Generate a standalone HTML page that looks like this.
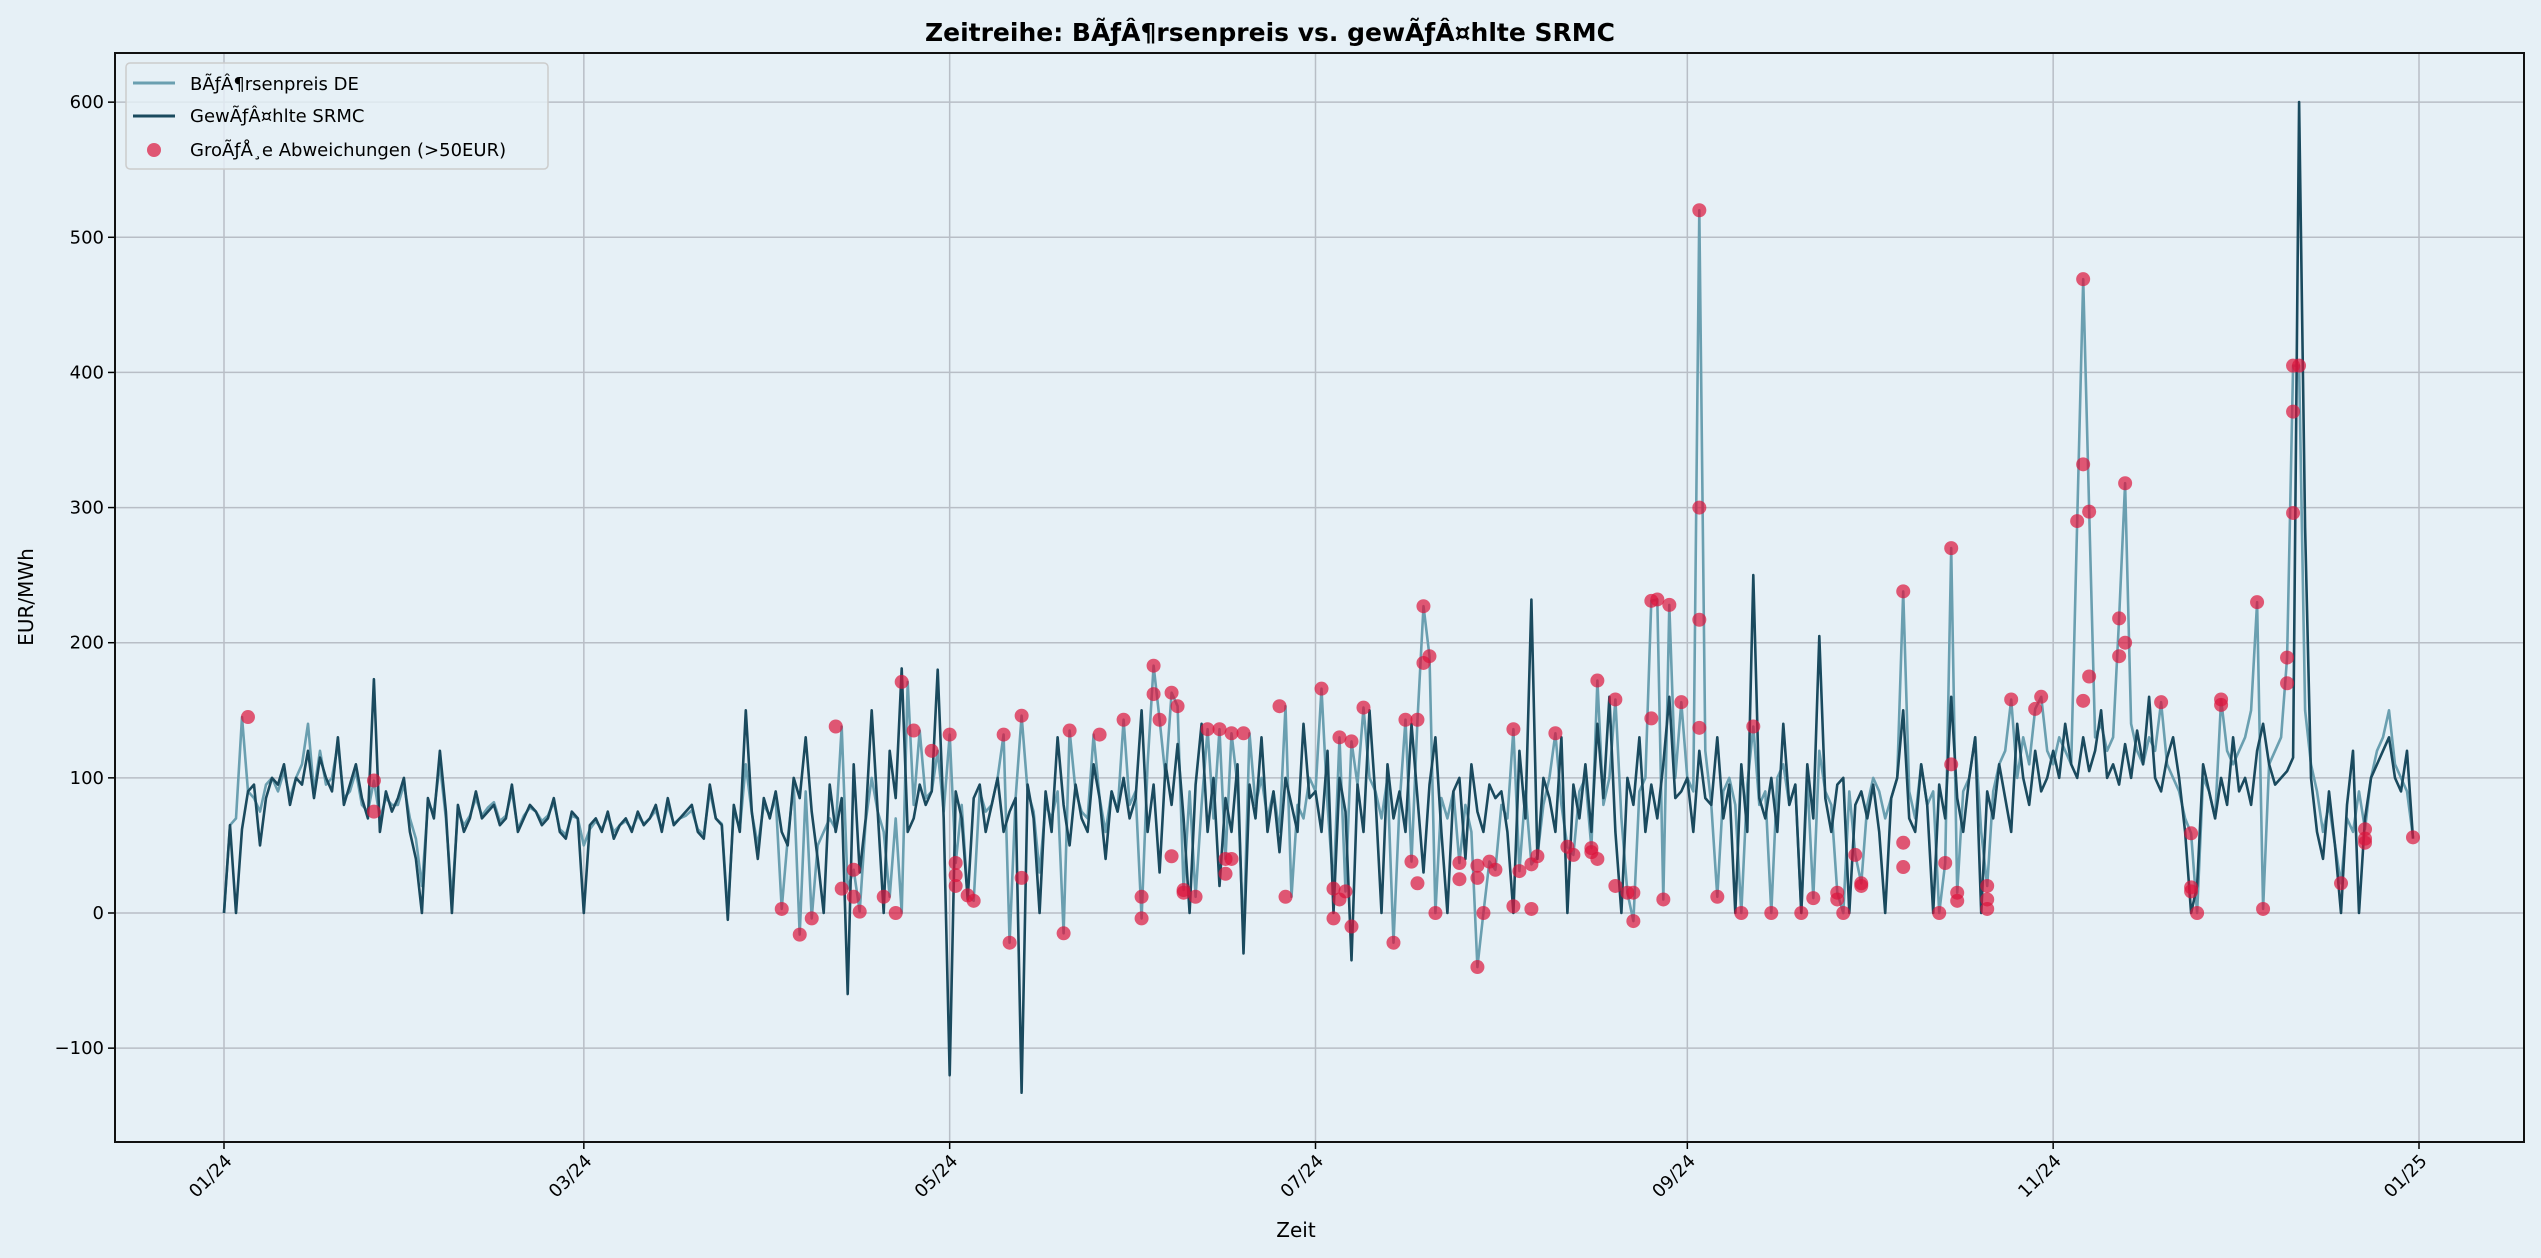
<!DOCTYPE html>
<html>
<head>
<meta charset="utf-8">
<style>
html,body{margin:0;padding:0;background:#e6f0f6;}
svg{display:block;}
text{font-family:"DejaVu Sans","Liberation Sans",sans-serif;fill:#000;}
</style>
</head>
<body>
<svg id="chart" width="2541" height="1258" viewBox="0 0 2541 1258" xmlns="http://www.w3.org/2000/svg">
<rect x="0" y="0" width="2541" height="1258" fill="#e6f0f6"/>
<text x="1270" y="41" text-anchor="middle" font-size="25" font-weight="bold">Zeitreihe: BÃƒÂ¶rsenpreis vs. gewÃƒÂ¤hlte SRMC</text>
<g id="grid"></g>
<g id="plot"></g>
<g id="axes"></g>
<text x="1296" y="1237" text-anchor="middle" font-size="20">Zeit</text>
<text transform="translate(33,597) rotate(-90)" text-anchor="middle" font-size="20">EUR/MWh</text>
<g>
<rect x="126" y="63" width="422" height="106" rx="4" fill="#e6f0f6" fill-opacity="0.8" stroke="#cccccc" stroke-width="1.5"/>
<line x1="133" y1="83" x2="175" y2="83" stroke="#6a9fb0" stroke-width="3"/>
<text x="190" y="90" font-size="18">BÃƒÂ¶rsenpreis DE</text>
<line x1="133" y1="116" x2="175" y2="116" stroke="#1a4a5e" stroke-width="3"/>
<text x="190" y="122" font-size="18">GewÃƒÂ¤hlte SRMC</text>
<circle cx="154" cy="150" r="7" fill="#dc143c" fill-opacity="0.7"/>
<text x="190" y="156" font-size="18">GroÃƒÅ¸e Abweichungen (&gt;50EUR)</text>
</g>
</svg>
<script>
const srmc = [
0,65,0,62,90,95,50,85,100,95,110,80,100,95,120,85,115,100,90,130,80,95,110,85,70,173,60,90,75,85,100,
60,40,0,85,70,120,75,0,80,60,70,90,70,75,80,65,70,95,60,70,80,75,65,70,85,60,55,75,70,
0,65,70,60,75,55,65,70,60,75,65,70,80,60,85,65,70,75,80,60,55,95,70,65,-5,80,60,150,75,40,85,
70,90,60,50,100,85,130,75,40,0,95,60,85,-60,110,30,70,150,75,0,120,85,181,60,70,95,80,90,180,70,
-120,90,70,10,85,95,60,80,100,60,75,85,-133,95,70,0,90,60,130,80,50,95,70,60,110,85,40,90,75,100,70,
85,150,60,95,30,110,80,125,70,0,95,140,60,100,20,85,60,110,-30,95,70,130,60,90,45,100,80,60,140,85,
90,60,120,0,100,75,-35,95,60,150,85,0,110,70,90,60,140,85,30,95,130,60,0,90,100,40,110,75,60,95,85,
90,60,0,120,70,232,40,100,85,60,130,0,95,70,110,60,140,85,160,60,0,100,80,130,60,95,70,110,160,85,90,
100,60,120,85,80,130,70,95,0,110,60,250,85,70,100,60,140,80,95,0,110,70,205,85,60,95,100,0,80,90,
70,95,60,0,85,100,150,70,60,110,80,0,95,70,160,85,60,100,130,0,90,70,110,85,60,140,100,80,120,90,100,
120,100,140,110,100,130,105,120,150,100,110,95,125,100,135,110,160,100,90,115,130,100,60,0,20,110,90,70,100,80,
130,90,100,80,120,140,110,95,100,105,115,600,285,100,60,40,90,50,0,80,120,0,70,100,110,120,130,100,90,120,55
];
const price = [
0,65,70,145,90,85,75,95,100,90,105,85,100,110,140,90,120,95,100,125,85,90,105,80,75,98,70,85,80,80,95,
70,55,20,80,75,110,70,10,75,65,72,85,72,78,82,68,72,90,62,72,78,75,68,72,82,62,58,72,70,
50,62,68,62,72,60,65,68,62,72,66,70,76,62,80,66,70,72,76,62,58,90,70,66,0,76,62,110,74,50,80,
72,85,3,55,95,-16,90,-4,50,60,70,62,138,18,32,1,68,100,75,60,12,70,0,171,80,135,85,90,120,75,
132,37,80,13,9,90,75,80,100,132,-22,85,146,90,75,30,80,70,90,-15,135,90,75,70,132,85,60,90,75,143,80,
90,-4,110,183,143,100,163,153,17,90,12,80,136,70,136,40,133,95,-20,133,80,100,70,90,60,153,12,80,70,100,
90,166,80,18,130,16,127,95,152,100,90,70,100,-22,80,143,38,143,227,190,0,85,70,90,37,80,60,-40,0,38,32,
80,70,136,31,90,36,42,80,100,133,80,49,43,90,100,48,172,80,100,158,70,15,-6,90,100,231,232,10,228,100,156,
100,90,520,120,80,12,90,100,80,0,95,138,80,90,0,100,110,80,95,0,100,11,120,90,80,15,0,90,43,22,
80,100,90,70,85,100,238,90,70,110,80,90,0,37,270,15,90,100,130,60,20,90,110,120,158,100,130,110,151,160,120,
110,130,120,110,290,469,297,130,140,120,130,218,318,140,120,110,130,120,156,110,100,90,70,59,0,100,90,70,158,120,
110,120,130,150,230,3,110,120,130,189,405,405,150,110,90,60,80,50,22,70,60,90,62,100,120,130,150,110,100,90,56
];
const devDays = [4,25,25,93,96,98,102,103,105,105,106,110,112,113,115,118,121,122,122,122,124,125,130,131,133,133,140,141,146,150,153,153,155,155,156,158,158,159,160,160,162,164,166,167,167,168,168,170,176,177,183,185,185,186,186,187,188,188,190,195,197,198,199,199,200,200,201,202,206,206,209,209,209,210,211,212,215,215,216,218,218,219,222,224,225,228,228,229,229,232,232,234,235,235,238,238,239,240,241,243,246,246,246,246,249,253,255,258,263,265,269,269,270,272,273,273,280,280,280,286,287,288,288,289,289,294,294,294,298,302,303,309,310,310,310,311,311,316,316,317,317,323,328,328,328,329,333,333,339,340,344,344,345,345,345,346,353,357,357,357,365];
const devValues = [145,98,75,3,-16,-4,138,18,12,32,1,12,0,171,135,120,132,37,28,20,13,9,132,-22,26,146,-15,135,132,143,12,-4,183,162,143,163,42,153,15,17,12,136,136,29,40,133,40,133,153,12,166,18,-4,10,130,16,127,-10,152,-22,143,38,22,143,227,185,190,0,37,25,35,26,-40,0,38,32,136,5,31,36,3,42,133,49,43,48,45,172,40,20,158,15,15,-6,144,231,232,10,228,156,520,300,217,137,12,0,138,0,0,11,15,10,0,43,20,22,52,34,238,0,37,270,110,9,15,20,10,3,158,151,160,290,469,332,157,297,175,190,218,318,200,156,59,19,16,0,158,154,230,3,170,189,405,371,296,405,22,62,55,52,56];
const yTicks = [-100,0,100,200,300,400,500,600];
const xTickDays = [0,60,121,182,244,305,366];
const xTickLabels = ["01/24","03/24","05/24","07/24","09/24","11/24","01/25"];

const L=115,R=2524,T=53,B=1142;
const x0=224, pxPerDay=(2419-224)/366;
const y0=913, pxPerUnit=(1048-102)/700;
function xs(d){return x0+d*pxPerDay;}
function ys(v){return y0-v*pxPerUnit;}
const NS="http://www.w3.org/2000/svg";
function mk(tag,attrs,parent){const e=document.createElementNS(NS,tag);for(const k in attrs)e.setAttribute(k,attrs[k]);parent.appendChild(e);return e;}

const grid=document.getElementById('grid');
const plot=document.getElementById('plot');
const axes=document.getElementById('axes');

yTicks.forEach((v,i)=>{
  const y=ys(v);
  const g=mk('line',{x1:L,x2:R,y1:y,y2:y,stroke:'#b8bec6','stroke-width':1.5},grid);
  
  
  const t=mk('line',{x1:L-7,x2:L,y1:y,y2:y,stroke:'#000','stroke-width':1.5},axes);
  
  
  const tx=mk('text',{x:L-11,y:y+6,'text-anchor':'end','font-size':18},axes);
  tx.textContent=(v<0?'\u2212'+Math.abs(v):String(v));
  
  
});
xTickDays.forEach((d,i)=>{
  const x=xs(d);
  const g=mk('line',{x1:x,x2:x,y1:T,y2:B,stroke:'#b8bec6','stroke-width':1.5},grid);
  
  
  const t=mk('line',{x1:x,x2:x,y1:B,y2:B+7,stroke:'#000','stroke-width':1.5},axes);
  
  
  const tx=mk('text',{'text-anchor':'end','font-size':18,transform:'translate('+(x+9)+','+(B+20)+') rotate(-45)'},axes);
  tx.textContent=xTickLabels[i];
  
  
});

function linePath(arr){return arr.map((v,i)=>(i?'L':'M')+xs(i).toFixed(1)+','+ys(v).toFixed(1)).join('');}
const pp=mk('path',{d:linePath(price),fill:'none',stroke:'#6a9fb0','stroke-width':2.6,'stroke-linejoin':'round'},plot);


const sp=mk('path',{d:linePath(srmc),fill:'none',stroke:'#1a4a5e','stroke-width':2.6,'stroke-linejoin':'round'},plot);


devDays.forEach((d,i)=>{
  const c=mk('circle',{cx:xs(d),cy:ys(devValues[i]),r:7,fill:'#dc143c','fill-opacity':0.7},plot);
  
  
});
const frame=mk('rect',{x:L,y:T,width:R-L,height:B-T,fill:'none',stroke:'#111','stroke-width':2},axes);


</script>
</body>
</html>
